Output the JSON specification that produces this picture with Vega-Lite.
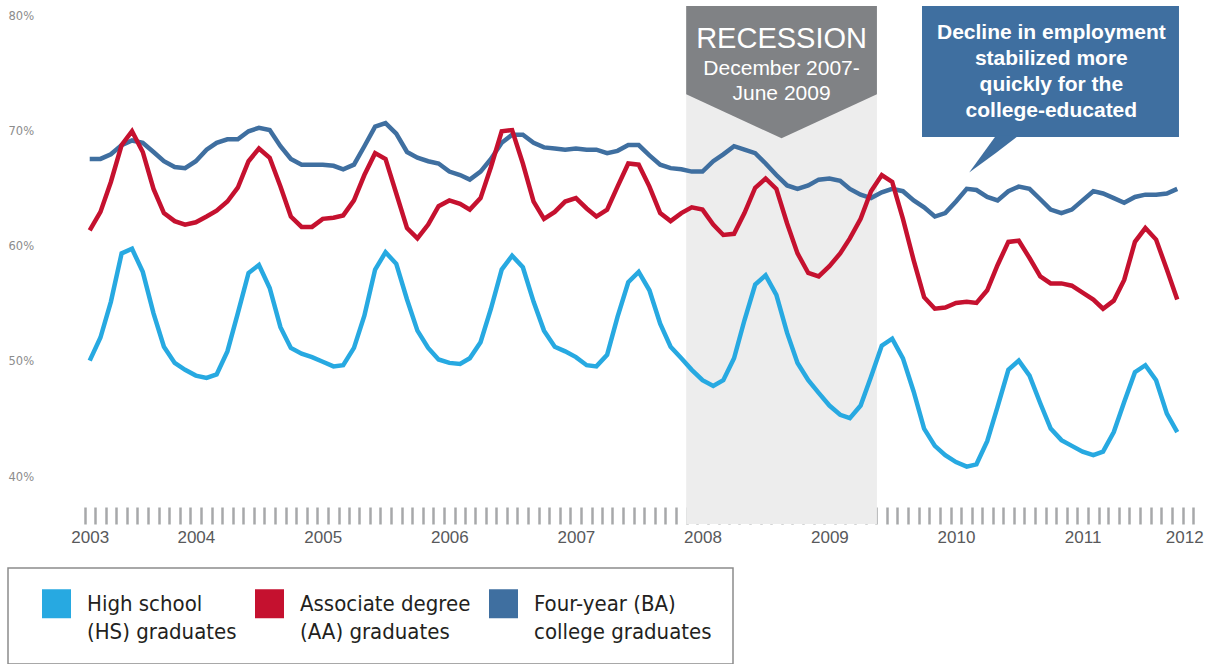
{
  "$schema": "https://vega.github.io/schema/vega-lite/v6.json",
  "width": 1108,
  "height": 461,
  "autosize": "none",
  "padding": {"left": 80, "top": 16, "right": 23, "bottom": 187},
  "background": "white",
  "config": {"view": {"stroke": null}, "axis": {"grid": false}, "style": {"guide-label": {"lineHeight": 28}}},
  "datasets": {
    "rates": [
      {"month":"2003-03-01","series":"HS","rate":50.1},{"month":"2003-04-01","series":"HS","rate":52.1},{"month":"2003-05-01","series":"HS","rate":55.2},{"month":"2003-06-01","series":"HS","rate":59.4},{"month":"2003-07-01","series":"HS","rate":59.8},{"month":"2003-08-01","series":"HS","rate":57.8},{"month":"2003-09-01","series":"HS","rate":54.2},{"month":"2003-10-01","series":"HS","rate":51.3},{"month":"2003-11-01","series":"HS","rate":49.9},{"month":"2003-12-01","series":"HS","rate":49.3},
      {"month":"2004-01-01","series":"HS","rate":48.8},{"month":"2004-02-01","series":"HS","rate":48.6},{"month":"2004-03-01","series":"HS","rate":48.9},{"month":"2004-04-01","series":"HS","rate":50.9},{"month":"2004-05-01","series":"HS","rate":54.2},{"month":"2004-06-01","series":"HS","rate":57.7},{"month":"2004-07-01","series":"HS","rate":58.4},{"month":"2004-08-01","series":"HS","rate":56.4},{"month":"2004-09-01","series":"HS","rate":53.0},{"month":"2004-10-01","series":"HS","rate":51.2},{"month":"2004-11-01","series":"HS","rate":50.7},{"month":"2004-12-01","series":"HS","rate":50.4},
      {"month":"2005-01-01","series":"HS","rate":50.0},{"month":"2005-02-01","series":"HS","rate":49.6},{"month":"2005-03-01","series":"HS","rate":49.7},{"month":"2005-04-01","series":"HS","rate":51.2},{"month":"2005-05-01","series":"HS","rate":54.0},{"month":"2005-06-01","series":"HS","rate":58.0},{"month":"2005-07-01","series":"HS","rate":59.5},{"month":"2005-08-01","series":"HS","rate":58.5},{"month":"2005-09-01","series":"HS","rate":55.4},{"month":"2005-10-01","series":"HS","rate":52.7},{"month":"2005-11-01","series":"HS","rate":51.2},{"month":"2005-12-01","series":"HS","rate":50.2},
      {"month":"2006-01-01","series":"HS","rate":49.9},{"month":"2006-02-01","series":"HS","rate":49.8},{"month":"2006-03-01","series":"HS","rate":50.3},{"month":"2006-04-01","series":"HS","rate":51.7},{"month":"2006-05-01","series":"HS","rate":54.6},{"month":"2006-06-01","series":"HS","rate":58.0},{"month":"2006-07-01","series":"HS","rate":59.2},{"month":"2006-08-01","series":"HS","rate":58.2},{"month":"2006-09-01","series":"HS","rate":55.2},{"month":"2006-10-01","series":"HS","rate":52.7},{"month":"2006-11-01","series":"HS","rate":51.3},{"month":"2006-12-01","series":"HS","rate":50.9},
      {"month":"2007-01-01","series":"HS","rate":50.4},{"month":"2007-02-01","series":"HS","rate":49.7},{"month":"2007-03-01","series":"HS","rate":49.6},{"month":"2007-04-01","series":"HS","rate":50.6},{"month":"2007-05-01","series":"HS","rate":53.9},{"month":"2007-06-01","series":"HS","rate":56.9},{"month":"2007-07-01","series":"HS","rate":57.8},{"month":"2007-08-01","series":"HS","rate":56.2},{"month":"2007-09-01","series":"HS","rate":53.3},{"month":"2007-10-01","series":"HS","rate":51.3},{"month":"2007-11-01","series":"HS","rate":50.3},{"month":"2007-12-01","series":"HS","rate":49.3},
      {"month":"2008-01-01","series":"HS","rate":48.4},{"month":"2008-02-01","series":"HS","rate":47.9},{"month":"2008-03-01","series":"HS","rate":48.4},{"month":"2008-04-01","series":"HS","rate":50.3},{"month":"2008-05-01","series":"HS","rate":53.6},{"month":"2008-06-01","series":"HS","rate":56.7},{"month":"2008-07-01","series":"HS","rate":57.5},{"month":"2008-08-01","series":"HS","rate":55.8},{"month":"2008-09-01","series":"HS","rate":52.5},{"month":"2008-10-01","series":"HS","rate":49.9},{"month":"2008-11-01","series":"HS","rate":48.4},{"month":"2008-12-01","series":"HS","rate":47.3},
      {"month":"2009-01-01","series":"HS","rate":46.2},{"month":"2009-02-01","series":"HS","rate":45.4},{"month":"2009-03-01","series":"HS","rate":45.1},{"month":"2009-04-01","series":"HS","rate":46.2},{"month":"2009-05-01","series":"HS","rate":48.7},{"month":"2009-06-01","series":"HS","rate":51.4},{"month":"2009-07-01","series":"HS","rate":52.0},{"month":"2009-08-01","series":"HS","rate":50.3},{"month":"2009-09-01","series":"HS","rate":47.4},{"month":"2009-10-01","series":"HS","rate":44.2},{"month":"2009-11-01","series":"HS","rate":42.7},{"month":"2009-12-01","series":"HS","rate":41.9},
      {"month":"2010-01-01","series":"HS","rate":41.3},{"month":"2010-02-01","series":"HS","rate":40.9},{"month":"2010-03-01","series":"HS","rate":41.1},{"month":"2010-04-01","series":"HS","rate":43.1},{"month":"2010-05-01","series":"HS","rate":46.1},{"month":"2010-06-01","series":"HS","rate":49.3},{"month":"2010-07-01","series":"HS","rate":50.1},{"month":"2010-08-01","series":"HS","rate":48.8},{"month":"2010-09-01","series":"HS","rate":46.4},{"month":"2010-10-01","series":"HS","rate":44.2},{"month":"2010-11-01","series":"HS","rate":43.2},{"month":"2010-12-01","series":"HS","rate":42.7},
      {"month":"2011-01-01","series":"HS","rate":42.2},{"month":"2011-02-01","series":"HS","rate":41.9},{"month":"2011-03-01","series":"HS","rate":42.2},{"month":"2011-04-01","series":"HS","rate":43.9},{"month":"2011-05-01","series":"HS","rate":46.5},{"month":"2011-06-01","series":"HS","rate":49.1},{"month":"2011-07-01","series":"HS","rate":49.7},{"month":"2011-08-01","series":"HS","rate":48.4},{"month":"2011-09-01","series":"HS","rate":45.5},{"month":"2011-10-01","series":"HS","rate":43.9},

      {"month":"2003-03-01","series":"AA","rate":61.4},{"month":"2003-04-01","series":"AA","rate":63.0},{"month":"2003-05-01","series":"AA","rate":65.6},{"month":"2003-06-01","series":"AA","rate":68.8},{"month":"2003-07-01","series":"AA","rate":70.0},{"month":"2003-08-01","series":"AA","rate":68.2},{"month":"2003-09-01","series":"AA","rate":65.0},{"month":"2003-10-01","series":"AA","rate":62.9},{"month":"2003-11-01","series":"AA","rate":62.2},{"month":"2003-12-01","series":"AA","rate":61.9},
      {"month":"2004-01-01","series":"AA","rate":62.1},{"month":"2004-02-01","series":"AA","rate":62.6},{"month":"2004-03-01","series":"AA","rate":63.1},{"month":"2004-04-01","series":"AA","rate":63.9},{"month":"2004-05-01","series":"AA","rate":65.1},{"month":"2004-06-01","series":"AA","rate":67.4},{"month":"2004-07-01","series":"AA","rate":68.5},{"month":"2004-08-01","series":"AA","rate":67.7},{"month":"2004-09-01","series":"AA","rate":65.2},{"month":"2004-10-01","series":"AA","rate":62.6},{"month":"2004-11-01","series":"AA","rate":61.7},{"month":"2004-12-01","series":"AA","rate":61.7},
      {"month":"2005-01-01","series":"AA","rate":62.4},{"month":"2005-02-01","series":"AA","rate":62.5},{"month":"2005-03-01","series":"AA","rate":62.7},{"month":"2005-04-01","series":"AA","rate":64.0},{"month":"2005-05-01","series":"AA","rate":66.2},{"month":"2005-06-01","series":"AA","rate":68.1},{"month":"2005-07-01","series":"AA","rate":67.6},{"month":"2005-08-01","series":"AA","rate":64.6},{"month":"2005-09-01","series":"AA","rate":61.6},{"month":"2005-10-01","series":"AA","rate":60.7},{"month":"2005-11-01","series":"AA","rate":61.9},{"month":"2005-12-01","series":"AA","rate":63.5},
      {"month":"2006-01-01","series":"AA","rate":64.0},{"month":"2006-02-01","series":"AA","rate":63.7},{"month":"2006-03-01","series":"AA","rate":63.2},{"month":"2006-04-01","series":"AA","rate":64.2},{"month":"2006-05-01","series":"AA","rate":66.9},{"month":"2006-06-01","series":"AA","rate":70.0},{"month":"2006-07-01","series":"AA","rate":70.1},{"month":"2006-08-01","series":"AA","rate":67.2},{"month":"2006-09-01","series":"AA","rate":63.9},{"month":"2006-10-01","series":"AA","rate":62.4},{"month":"2006-11-01","series":"AA","rate":63.0},{"month":"2006-12-01","series":"AA","rate":63.9},
      {"month":"2007-01-01","series":"AA","rate":64.2},{"month":"2007-02-01","series":"AA","rate":63.3},{"month":"2007-03-01","series":"AA","rate":62.6},{"month":"2007-04-01","series":"AA","rate":63.2},{"month":"2007-05-01","series":"AA","rate":65.2},{"month":"2007-06-01","series":"AA","rate":67.2},{"month":"2007-07-01","series":"AA","rate":67.1},{"month":"2007-08-01","series":"AA","rate":65.2},{"month":"2007-09-01","series":"AA","rate":62.9},{"month":"2007-10-01","series":"AA","rate":62.2},{"month":"2007-11-01","series":"AA","rate":62.9},{"month":"2007-12-01","series":"AA","rate":63.4},
      {"month":"2008-01-01","series":"AA","rate":63.2},{"month":"2008-02-01","series":"AA","rate":61.9},{"month":"2008-03-01","series":"AA","rate":61.0},{"month":"2008-04-01","series":"AA","rate":61.1},{"month":"2008-05-01","series":"AA","rate":62.9},{"month":"2008-06-01","series":"AA","rate":65.1},{"month":"2008-07-01","series":"AA","rate":65.9},{"month":"2008-08-01","series":"AA","rate":65.0},{"month":"2008-09-01","series":"AA","rate":62.0},{"month":"2008-10-01","series":"AA","rate":59.4},{"month":"2008-11-01","series":"AA","rate":57.7},{"month":"2008-12-01","series":"AA","rate":57.4},
      {"month":"2009-01-01","series":"AA","rate":58.3},{"month":"2009-02-01","series":"AA","rate":59.4},{"month":"2009-03-01","series":"AA","rate":60.7},{"month":"2009-04-01","series":"AA","rate":62.4},{"month":"2009-05-01","series":"AA","rate":64.8},{"month":"2009-06-01","series":"AA","rate":66.2},{"month":"2009-07-01","series":"AA","rate":65.6},{"month":"2009-08-01","series":"AA","rate":62.4},{"month":"2009-09-01","series":"AA","rate":58.8},{"month":"2009-10-01","series":"AA","rate":55.6},{"month":"2009-11-01","series":"AA","rate":54.6},{"month":"2009-12-01","series":"AA","rate":54.7},
      {"month":"2010-01-01","series":"AA","rate":55.1},{"month":"2010-02-01","series":"AA","rate":55.2},{"month":"2010-03-01","series":"AA","rate":55.1},{"month":"2010-04-01","series":"AA","rate":56.2},{"month":"2010-05-01","series":"AA","rate":58.4},{"month":"2010-06-01","series":"AA","rate":60.4},{"month":"2010-07-01","series":"AA","rate":60.5},{"month":"2010-08-01","series":"AA","rate":59.0},{"month":"2010-09-01","series":"AA","rate":57.4},{"month":"2010-10-01","series":"AA","rate":56.8},{"month":"2010-11-01","series":"AA","rate":56.8},{"month":"2010-12-01","series":"AA","rate":56.6},
      {"month":"2011-01-01","series":"AA","rate":56.0},{"month":"2011-02-01","series":"AA","rate":55.4},{"month":"2011-03-01","series":"AA","rate":54.6},{"month":"2011-04-01","series":"AA","rate":55.3},{"month":"2011-05-01","series":"AA","rate":57.1},{"month":"2011-06-01","series":"AA","rate":60.4},{"month":"2011-07-01","series":"AA","rate":61.6},{"month":"2011-08-01","series":"AA","rate":60.6},{"month":"2011-09-01","series":"AA","rate":58.0},{"month":"2011-10-01","series":"AA","rate":55.4},

      {"month":"2003-03-01","series":"BA","rate":67.6},{"month":"2003-04-01","series":"BA","rate":67.6},{"month":"2003-05-01","series":"BA","rate":68.0},{"month":"2003-06-01","series":"BA","rate":68.8},{"month":"2003-07-01","series":"BA","rate":69.2},{"month":"2003-08-01","series":"BA","rate":69.0},{"month":"2003-09-01","series":"BA","rate":68.2},{"month":"2003-10-01","series":"BA","rate":67.4},{"month":"2003-11-01","series":"BA","rate":66.9},{"month":"2003-12-01","series":"BA","rate":66.8},
      {"month":"2004-01-01","series":"BA","rate":67.4},{"month":"2004-02-01","series":"BA","rate":68.4},{"month":"2004-03-01","series":"BA","rate":69.0},{"month":"2004-04-01","series":"BA","rate":69.3},{"month":"2004-05-01","series":"BA","rate":69.3},{"month":"2004-06-01","series":"BA","rate":70.0},{"month":"2004-07-01","series":"BA","rate":70.3},{"month":"2004-08-01","series":"BA","rate":70.1},{"month":"2004-09-01","series":"BA","rate":68.7},{"month":"2004-10-01","series":"BA","rate":67.6},{"month":"2004-11-01","series":"BA","rate":67.1},{"month":"2004-12-01","series":"BA","rate":67.1},
      {"month":"2005-01-01","series":"BA","rate":67.1},{"month":"2005-02-01","series":"BA","rate":67.0},{"month":"2005-03-01","series":"BA","rate":66.7},{"month":"2005-04-01","series":"BA","rate":67.1},{"month":"2005-05-01","series":"BA","rate":68.7},{"month":"2005-06-01","series":"BA","rate":70.4},{"month":"2005-07-01","series":"BA","rate":70.7},{"month":"2005-08-01","series":"BA","rate":69.8},{"month":"2005-09-01","series":"BA","rate":68.2},{"month":"2005-10-01","series":"BA","rate":67.7},{"month":"2005-11-01","series":"BA","rate":67.4},{"month":"2005-12-01","series":"BA","rate":67.2},
      {"month":"2006-01-01","series":"BA","rate":66.5},{"month":"2006-02-01","series":"BA","rate":66.2},{"month":"2006-03-01","series":"BA","rate":65.8},{"month":"2006-04-01","series":"BA","rate":66.5},{"month":"2006-05-01","series":"BA","rate":67.6},{"month":"2006-06-01","series":"BA","rate":69.0},{"month":"2006-07-01","series":"BA","rate":69.7},{"month":"2006-08-01","series":"BA","rate":69.7},{"month":"2006-09-01","series":"BA","rate":69.0},{"month":"2006-10-01","series":"BA","rate":68.6},{"month":"2006-11-01","series":"BA","rate":68.5},{"month":"2006-12-01","series":"BA","rate":68.4},
      {"month":"2007-01-01","series":"BA","rate":68.5},{"month":"2007-02-01","series":"BA","rate":68.4},{"month":"2007-03-01","series":"BA","rate":68.4},{"month":"2007-04-01","series":"BA","rate":68.1},{"month":"2007-05-01","series":"BA","rate":68.3},{"month":"2007-06-01","series":"BA","rate":68.8},{"month":"2007-07-01","series":"BA","rate":68.8},{"month":"2007-08-01","series":"BA","rate":67.9},{"month":"2007-09-01","series":"BA","rate":67.1},{"month":"2007-10-01","series":"BA","rate":66.8},{"month":"2007-11-01","series":"BA","rate":66.7},{"month":"2007-12-01","series":"BA","rate":66.5},
      {"month":"2008-01-01","series":"BA","rate":66.5},{"month":"2008-02-01","series":"BA","rate":67.4},{"month":"2008-03-01","series":"BA","rate":68.0},{"month":"2008-04-01","series":"BA","rate":68.7},{"month":"2008-05-01","series":"BA","rate":68.4},{"month":"2008-06-01","series":"BA","rate":68.1},{"month":"2008-07-01","series":"BA","rate":67.2},{"month":"2008-08-01","series":"BA","rate":66.2},{"month":"2008-09-01","series":"BA","rate":65.3},{"month":"2008-10-01","series":"BA","rate":65.0},{"month":"2008-11-01","series":"BA","rate":65.3},{"month":"2008-12-01","series":"BA","rate":65.8},
      {"month":"2009-01-01","series":"BA","rate":65.9},{"month":"2009-02-01","series":"BA","rate":65.7},{"month":"2009-03-01","series":"BA","rate":65.0},{"month":"2009-04-01","series":"BA","rate":64.5},{"month":"2009-05-01","series":"BA","rate":64.2},{"month":"2009-06-01","series":"BA","rate":64.7},{"month":"2009-07-01","series":"BA","rate":65.0},{"month":"2009-08-01","series":"BA","rate":64.8},{"month":"2009-09-01","series":"BA","rate":64.0},{"month":"2009-10-01","series":"BA","rate":63.4},{"month":"2009-11-01","series":"BA","rate":62.6},{"month":"2009-12-01","series":"BA","rate":62.9},
      {"month":"2010-01-01","series":"BA","rate":63.9},{"month":"2010-02-01","series":"BA","rate":65.0},{"month":"2010-03-01","series":"BA","rate":64.9},{"month":"2010-04-01","series":"BA","rate":64.3},{"month":"2010-05-01","series":"BA","rate":64.0},{"month":"2010-06-01","series":"BA","rate":64.8},{"month":"2010-07-01","series":"BA","rate":65.2},{"month":"2010-08-01","series":"BA","rate":65.0},{"month":"2010-09-01","series":"BA","rate":64.1},{"month":"2010-10-01","series":"BA","rate":63.2},{"month":"2010-11-01","series":"BA","rate":62.9},{"month":"2010-12-01","series":"BA","rate":63.2},
      {"month":"2011-01-01","series":"BA","rate":64.0},{"month":"2011-02-01","series":"BA","rate":64.8},{"month":"2011-03-01","series":"BA","rate":64.6},{"month":"2011-04-01","series":"BA","rate":64.2},{"month":"2011-05-01","series":"BA","rate":63.8},{"month":"2011-06-01","series":"BA","rate":64.3},{"month":"2011-07-01","series":"BA","rate":64.5},{"month":"2011-08-01","series":"BA","rate":64.5},{"month":"2011-09-01","series":"BA","rate":64.6},{"month":"2011-10-01","series":"BA","rate":65.0}
    ]
  },
  "resolve": {"axis": {"x": "independent", "y": "independent"}},
  "layer": [
    {
      "data": {"values": [{"start": "2007-11-15", "end": "2009-05-18"}]},
      "mark": {"type": "rect", "color": "#ededed"},
      "encoding": {
        "x": {"field": "start", "type": "temporal", "axis": null, "scale": {"type": "utc", "nice": false, "domain": [{"year": 2003, "month": 2, "date": 1, "utc": true}, {"year": 2011, "month": 11, "date": 1, "utc": true}]}},
        "x2": {"field": "end"},
        "y": {"datum": 80.87, "type": "quantitative", "axis": null, "scale": {"domain": [40, 80], "nice": false, "zero": false}},
        "y2": {"datum": 35.92}
      }
    },
    {
      "data": {"values": [{"month": "2007-11-15", "lower": 73.21}, {"month": "2008-08-16", "lower": 69.39}, {"month": "2009-05-18", "lower": 73.21}]},
      "mark": {"type": "area", "color": "#808285", "interpolate": "linear"},
      "encoding": {
        "x": {"field": "month", "type": "temporal", "axis": null},
        "y": {"field": "lower", "type": "quantitative", "axis": null, "stack": null},
        "y2": {"datum": 80.87}
      }
    },
    {
      "data": {"values": [{"start": "2009-09-25", "end": "2011-10-06"}]},
      "mark": {"type": "rect", "color": "#3f6fa0"},
      "encoding": {
        "x": {"field": "start", "type": "temporal", "axis": null},
        "x2": {"field": "end"},
        "y": {"datum": 80.87, "type": "quantitative", "axis": null},
        "y2": {"datum": 69.5}
      }
    },
    {
      "data": {"values": [{"month": "2010-02-08", "lower": 66.42, "upper": 66.42}, {"month": "2010-04-26", "lower": 68.11, "upper": 69.6}, {"month": "2010-06-29", "lower": 69.6, "upper": 69.6}]},
      "mark": {"type": "area", "color": "#3f6fa0", "interpolate": "linear"},
      "encoding": {
        "x": {"field": "month", "type": "temporal", "axis": null},
        "y": {"field": "lower", "type": "quantitative", "axis": null, "stack": null},
        "y2": {"field": "upper"}
      }
    },
    {
      "data": {"values": [{}]},
      "mark": {"type": "text", "text": "RECESSION", "color": "white", "font": "Liberation Sans", "fontSize": 29, "align": "center", "baseline": "alphabetic"},
      "encoding": {
        "x": {"datum": {"year": 2008, "month": 8, "date": 16, "utc": true}, "type": "temporal", "axis": null},
        "y": {"datum": 77.2, "type": "quantitative", "axis": null}
      }
    },
    {
      "data": {"values": [{}]},
      "mark": {"type": "text", "text": ["December 2007-", "June 2009"], "lineHeight": 25, "color": "white", "font": "Liberation Sans", "fontSize": 21, "align": "center", "baseline": "alphabetic"},
      "encoding": {
        "x": {"datum": {"year": 2008, "month": 8, "date": 16, "utc": true}, "type": "temporal", "axis": null},
        "y": {"datum": 74.88, "type": "quantitative", "axis": null}
      }
    },
    {
      "data": {"values": [{}]},
      "mark": {"type": "text", "text": ["Decline in employment", "stabilized more", "quickly for the", "college-educated"], "lineHeight": 26.1, "color": "white", "font": "Liberation Sans", "fontWeight": "bold", "fontSize": 21, "align": "center", "baseline": "alphabetic"},
      "encoding": {
        "x": {"datum": {"year": 2010, "month": 10, "date": 3, "utc": true}, "type": "temporal", "axis": null},
        "y": {"datum": 78.0, "type": "quantitative", "axis": null}
      }
    },
    {
      "data": {"name": "rates"},
      "transform": [{"filter": "datum.series == 'HS'"}],
      "mark": {"type": "line", "strokeWidth": 4.5, "interpolate": "linear"},
      "encoding": {
        "x": {"field": "month", "type": "temporal",
          "axis": {"orient": "bottom", "title": null, "ticks": false, "domain": false, "grid": false,
            "values": [{"year": 2003, "month": 3, "date": 1, "utc": true}, {"year": 2004, "month": 1, "date": 1, "utc": true}, {"year": 2005, "month": 1, "date": 1, "utc": true}, {"year": 2006, "month": 1, "date": 1, "utc": true}, {"year": 2007, "month": 1, "date": 1, "utc": true}, {"year": 2008, "month": 1, "date": 1, "utc": true}, {"year": 2009, "month": 1, "date": 1, "utc": true}, {"year": 2010, "month": 1, "date": 1, "utc": true}, {"year": 2011, "month": 1, "date": 1, "utc": true}, {"year": 2011, "month": 10, "date": 21, "utc": true}],
            "labelExpr": "utcmonth(datum.value) >= 6 ? '2012' : utcFormat(datum.value, '%Y')",
            "labelFont": "Liberation Sans", "labelFontSize": 17, "labelColor": "#58595b", "labelPadding": 52, "labelOverlap": false, "labelFlush": false}},
        "y": {"field": "rate", "type": "quantitative",
          "axis": {"title": null, "values": [40, 50, 60, 70, 80], "labelExpr": "datum.value + '%'", "ticks": false, "domain": false, "grid": false, "labelAlign": "left", "labelPadding": 72, "labelFont": "DejaVu Sans", "labelFontSize": 11.5, "labelColor": "#8c8c8c"}},
        "color": {"field": "series", "type": "nominal",
          "scale": {"domain": ["HS", "AA", "BA"], "range": ["#27a9e1", "#c5112f", "#3f6fa0"]},
          "legend": {"orient": "none", "legendX": -72, "legendY": 552, "direction": "horizontal", "columns": 3, "title": null,
            "symbolType": "square", "symbolSize": 841, "symbolOffset": 13, "labelOffset": 16, "columnPadding": 5, "gridAlign": "each",
            "labelFont": "DejaVu Sans Condensed", "labelFontSize": 22, "labelColor": "#231f20", "labelLimit": 400,
            "padding": 21, "strokeColor": "#8c8c8c",
            "labelExpr": "datum.value == 'HS' ? ['High school', '(HS) graduates'] : datum.value == 'AA' ? ['Associate degree', '(AA) graduates'] : ['Four-year (BA)', 'college graduates']",
            "encode": {"legend": {"update": {"strokeWidth": {"value": 1.5}}}, "symbols": {"update": {"fill": {"scale": "color", "field": "value"}, "stroke": {"value": "transparent"}, "strokeWidth": {"value": 0}, "opacity": {"value": 1}}}}}}
      }
    },
    {
      "data": {"name": "rates"},
      "transform": [{"filter": "datum.series == 'BA'"}],
      "mark": {"type": "line", "strokeWidth": 4.5, "interpolate": "linear"},
      "encoding": {
        "x": {"field": "month", "type": "temporal",
          "axis": {"orient": "bottom", "title": null, "labels": false, "domain": false, "grid": false, "ticks": true,
            "tickCount": {"interval": "month", "step": 1}, "tickSize": 17, "tickWidth": 2.5, "tickColor": "#a7a8aa", "offset": 30, "tickOffset": 5.3}},
        "y": {"field": "rate", "type": "quantitative", "axis": null},
        "color": {"field": "series", "type": "nominal"}
      }
    },
    {
      "data": {"name": "rates"},
      "transform": [{"filter": "datum.series == 'AA'"}],
      "mark": {"type": "line", "strokeWidth": 4.5, "interpolate": "linear"},
      "encoding": {
        "x": {"field": "month", "type": "temporal", "axis": null},
        "y": {"field": "rate", "type": "quantitative", "axis": null},
        "color": {"field": "series", "type": "nominal"}
      }
    }
  ]
}
